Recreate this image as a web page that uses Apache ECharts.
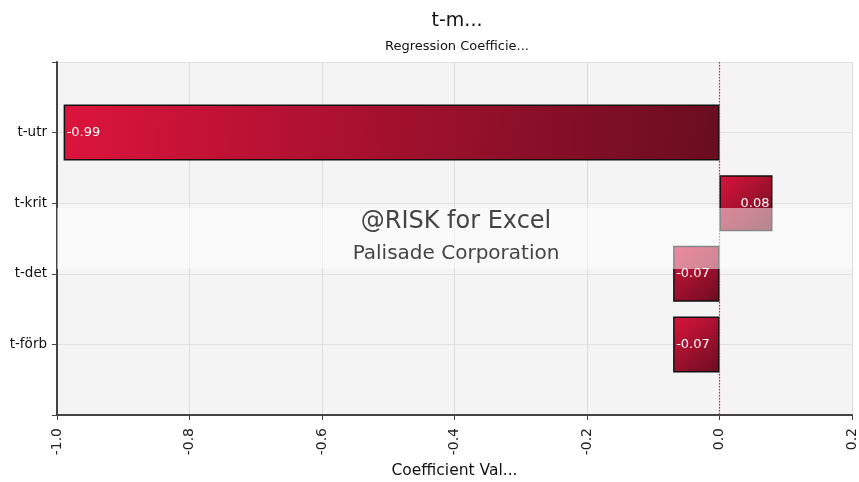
<!DOCTYPE html>
<html>
<head>
<meta charset="utf-8">
<script src="https://cdn.jsdelivr.net/npm/echarts@6/dist/echarts.min.js"></script>
<style>
html,body{margin:0;padding:0;background:#fff;}
#chart{width:859px;height:482px;}
</style>
</head>
<body>
<div id="chart"></div>
<script>
var categories = ['t-utr', 't-krit', 't-det', 't-förb'];
var values = [-0.99, 0.08, -0.07, -0.07];
var xTicks = [-1.0, -0.8, -0.6, -0.4, -0.2, 0.0, 0.2];
var zeroLineX = 0;
var titleText = 't-m...';
var subtitleText = 'Regression Coefficie...';
var xAxisName = 'Coefficient Val...';
var watermark1 = '@RISK for Excel';
var watermark2 = 'Palisade Corporation';

var FONT = 'DejaVu Sans';
var chart = echarts.init(document.getElementById('chart'));

var yData = [''].concat(categories).concat(['']);
var barData = ['-'].concat(values.map(function (v) {
  return {
    value: v,
    label: { position: v < 0 ? 'insideLeft' : 'insideRight' }
  };
})).concat(['-']);

var gradient = new echarts.graphic.LinearGradient(0, 0, 1, 1, [
  { offset: 0, color: '#dc143c' },
  { offset: 1, color: '#690d20' }
]);

var gridLeft = 57, gridRight = 7, gridTop = 62, gridBottom = 67;
var plotW = 859 - gridLeft - gridRight;

chart.setOption({
  animation: false,
  backgroundColor: '#ffffff',
  title: {
    text: titleText,
    subtext: subtitleText,
    left: 452,
    textAlign: 'center',
    top: 7,
    itemGap: 9,
    textStyle: { fontFamily: FONT, fontSize: 19, fontWeight: 'normal', color: '#111' },
    subtextStyle: { fontFamily: FONT, fontSize: 13, color: '#111' }
  },
  grid: {
    left: gridLeft, right: gridRight, top: gridTop, bottom: gridBottom,
    outerBoundsMode: 'none',
    containLabel: false,
    show: true, backgroundColor: '#f4f4f4', borderWidth: 0
  },
  xAxis: {
    type: 'value',
    min: xTicks[0],
    max: xTicks[xTicks.length - 1],
    interval: 0.2,
    name: xAxisName,
    nameLocation: 'middle',
    nameGap: 46,
    nameTextStyle: { fontFamily: FONT, fontSize: 15.5, color: '#111' },
    axisLine: { show: true, onZero: false, lineStyle: { color: '#444', width: 2 } },
    axisTick: { show: true, length: 5, lineStyle: { color: '#444' } },
    axisLabel: {
      rotate: 90, margin: 13, fontFamily: FONT, fontSize: 14, color: '#222',
      formatter: function (v) { return v.toFixed(1); }
    },
    splitLine: { show: true, lineStyle: { color: '#dcdcdc', width: 1 } }
  },
  yAxis: {
    type: 'category',
    data: yData,
    inverse: true,
    boundaryGap: false,
    axisLine: { show: true, onZero: false, lineStyle: { color: '#444', width: 2 } },
    axisTick: { show: true, length: 5, lineStyle: { color: '#444' } },
    axisLabel: { fontFamily: FONT, fontSize: 13.5, color: '#111', margin: 10 },
    splitLine: { show: true, lineStyle: { color: '#e0e0e0', width: 1 } }
  },
  series: [{
    type: 'bar',
    data: barData,
    barWidth: 56,
    itemStyle: { color: gradient, borderColor: '#111', borderWidth: 1.5 },
    label: {
      show: true, color: '#fff', fontFamily: FONT, fontSize: 13, distance: 3,
      formatter: function (p) { return Number(p.value).toFixed(2); }
    },
    z: 2
  }, {
    type: 'line',
    data: [[zeroLineX, 0], [zeroLineX, yData.length - 1]],
    showSymbol: false,
    symbol: 'none',
    silent: true,
    lineStyle: { color: '#e8204f', type: [1.5, 1.5], width: 1.2 },
    z: 3
  }],
  graphic: [
    {
      type: 'rect', z: 100, silent: true,
      shape: { x: gridLeft, y: 208, width: plotW, height: 61 },
      style: { fill: 'rgba(255,255,255,0.5)' }
    },
    {
      type: 'text', z: 101, silent: true,
      x: 456, y: 222,
      style: { text: watermark1, fontFamily: FONT, fontSize: 24, fill: '#444', align: 'center', verticalAlign: 'middle' }
    },
    {
      type: 'text', z: 101, silent: true,
      x: 456, y: 254,
      style: { text: watermark2, fontFamily: FONT, fontSize: 20, fill: '#444', align: 'center', verticalAlign: 'middle' }
    }
  ]
});
</script>
</body>
</html>
